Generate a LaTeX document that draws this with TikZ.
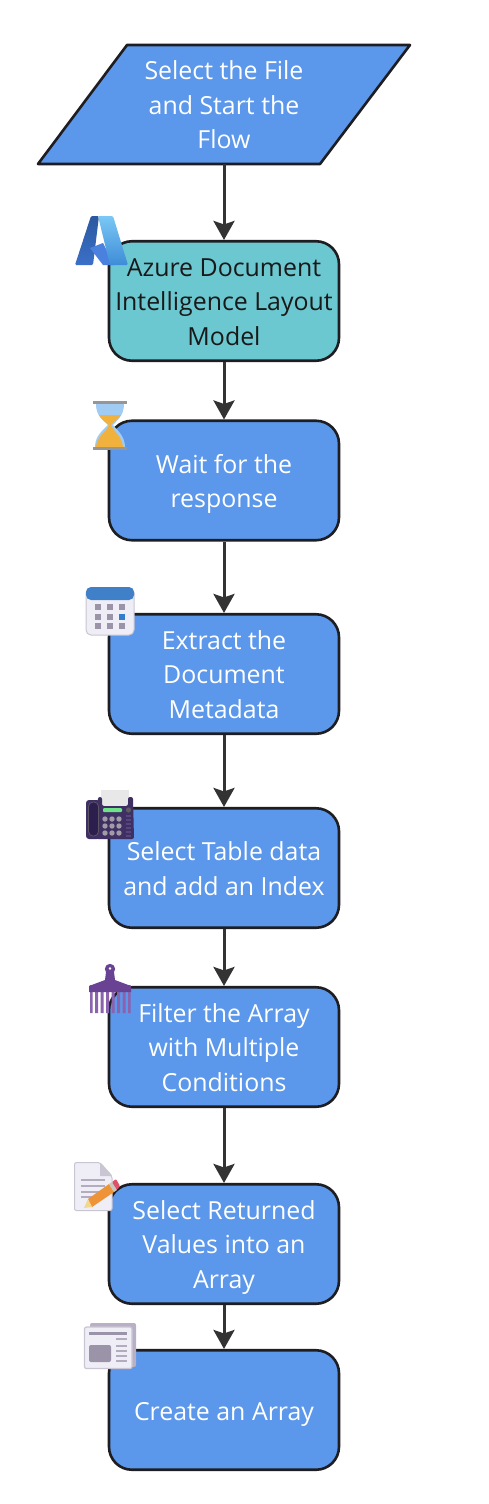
\documentclass[tikz,border=0pt]{standalone}
\usepackage{fontspec}
\setmainfont{Open Sans}
\usetikzlibrary{arrows.meta}
\definecolor{boxblue}{HTML}{5B97EA}
\definecolor{boxteal}{HTML}{6CC8D0}
\definecolor{edge}{HTML}{1E1E22}
\definecolor{arrowc}{HTML}{333333}
\definecolor{sheet}{HTML}{EFEEF6}
\definecolor{sheetb}{HTML}{C9C5D2}
\definecolor{mute}{HTML}{9B93A8}
\newcommand\flead[1][30pt]{\rule{0pt}{#1}}
\tikzset{
  x=1pt,y=-1pt,
  flowtext/.style={font=\fontsize{24.9}{34.5}\selectfont,align=center,text=white},
  flowbox/.style={flowtext,draw=edge,line width=2.6pt,fill=boxblue,rounded corners=23pt,minimum width=230pt,minimum height=119.5pt,inner sep=0pt},
  tealbox/.style={flowbox,fill=boxteal,text=black!90},
  startshape/.style={draw=edge,line width=2.6pt,fill=boxblue,line join=round},
  flowarrow/.style={draw=arrowc,line width=3pt,-{Stealth[length=19pt,width=21pt,inset=3.5pt]}},
}
\begin{document}
\begin{tikzpicture}
\useasboundingbox (0,0) rectangle (488,1504);
\fill[white] (0,0) rectangle (488,1504);
\coordinate (startbottom) at (224,164);
\draw[startshape] (127,45) -- (410,45) -- (320,164) -- (38,164) -- cycle;
\node[flowtext] (start) at (224,104.5) {\flead Select the File\\and Start the\\Flow\strut};
\node[tealbox] (azure) at (224,301) {\flead Azure Document\\Intelligence Layout\\Model\strut};
\node[flowbox] (wait) at (224,480.5) {\flead Wait for the\\response\strut};
\node[flowbox] (meta) at (224,674) {\flead Extract the\\Document\\Metadata\strut};
\node[flowbox] (table) at (224,868) {\flead Select Table data\\and add an Index\strut};
\node[flowbox] (filter) at (224,1047) {\flead Filter the Array\\with Multiple\\Conditions\strut};
\node[flowbox] (values) at (224,1244) {\flead Select Returned\\Values into an\\Array\strut};
\node[flowbox] (array) at (224,1410) {\flead[32pt]Create an Array\strut};
\draw[flowarrow] (startbottom) -- (azure.north);
\draw[flowarrow] (azure) -- (wait);
\draw[flowarrow] (wait) -- (meta);
\draw[flowarrow] (meta) -- (table);
\draw[flowarrow] (table) -- (filter);
\draw[flowarrow] (filter) -- (values);
\draw[flowarrow] (values) -- (array);
% Azure icon
\shade[top color={rgb,255:red,44;green,88;blue,160},bottom color={rgb,255:red,58;green,112;blue,200},rounded corners=1.2pt] (91,216) -- (99,216) -- (93,265) -- (75,265) -- cycle;
\fill[color={rgb,255:red,74;green,128;blue,222}] (90,248) -- (103,243) -- (114,265) -- (103,265) -- cycle;
\shade[top color={rgb,255:red,122;green,200;blue,245},bottom color={rgb,255:red,62;green,140;blue,215},rounded corners=1.2pt] (98,216) -- (113,216) -- (128,265) -- (110,265) -- cycle;
% Hourglass
\fill[color={rgb,255:red,160;green,203;blue,243}] (96,404) -- (124,404) .. controls (124,416) and (117,420) .. (113,425) .. controls (117,430) and (125,436) .. (125,447) -- (95,447) .. controls (95,436) and (103,430) .. (108,425) .. controls (103,420) and (96,416) .. (96,404) -- cycle;
\fill[color={rgb,255:red,240;green,178;blue,60}] (99,415) -- (121,415) .. controls (118,420) and (113,422) .. (111,425) .. controls (113,431) and (122,436) .. (123,447) -- (96,447) .. controls (97,436) and (107,431) .. (109,425) .. controls (106,422) and (102,420) .. (99,415) -- cycle;
\fill[color={rgb,255:red,150;green,150;blue,150}] (93,401) rectangle (127,404);
\fill[color={rgb,255:red,150;green,150;blue,150}] (93,447) rectangle (127,450);
% Calendar
\filldraw[fill=sheet,draw=sheetb,line width=1pt,rounded corners=5pt] (86,588) rectangle (134,635);
\fill[color={rgb,255:red,64;green,128;blue,200},rounded corners=5pt] (86,587) -- (134,587) -- (134,600) -- (86,600) -- cycle;
\foreach \cx in {98,110,122} \foreach \cy in {607,617,626} \fill[mute] (\cx-3,\cy-3) rectangle (\cx+3,\cy+3);
\fill[color={rgb,255:red,50;green,125;blue,205}] (119,614) rectangle (125,620);
% Fax
\fill[color={rgb,255:red,232;green,232;blue,232}] (101,790) rectangle (129,806);
\fill[color={rgb,255:red,63;green,47;blue,99},rounded corners=2pt] (98,797) -- (102,797) -- (102,806) -- (128,806) -- (128,797) -- (133,797) -- (134,839) -- (96,839) -- cycle;
\fill[color={rgb,255:red,63;green,47;blue,99},rounded corners=3pt] (86,800) rectangle (100,839);
\filldraw[fill={rgb,255:red,44;green,31;blue,77},draw={rgb,255:red,90;green,85;blue,100},line width=.8pt,rounded corners=4.5pt] (88.5,802) rectangle (98.5,836);
\fill[color={rgb,255:red,111;green,227;blue,138},rounded corners=1pt] (103,808) rectangle (122,812);
\fill[color={rgb,255:red,95;green,90;blue,100}] (128.5,810) circle (2.6);
\foreach \cx in {105,112,119} \foreach \cy in {819,826,833} \fill[color={rgb,255:red,160;green,155;blue,165}] (\cx,\cy) circle (2.7);
\foreach \cy in {816,820,824,828,832,836} \fill[color={rgb,255:red,85;green,70;blue,125}] (126,\cy-.7) rectangle (131,\cy+.7);
% Comb
\fill[color={rgb,255:red,138;green,98;blue,174}] (90,985) rectangle (92.5,1013) (95,985) rectangle (98,1013) (100.5,985) rectangle (103.5,1013) (106,985) rectangle (109,1013) (111.5,985) rectangle (114.5,1013) (117,985) rectangle (120,1013) (122.5,985) rectangle (125.5,1013) (128,985) rectangle (130.5,1013);
\fill[color={rgb,255:red,106;green,66;blue,148}] (89,992) -- (89,986) -- (105,980) -- (106,972) -- (114,972) -- (115,980) -- (131,986) -- (131,992) -- cycle;
\fill[color={rgb,255:red,106;green,66;blue,148},even odd rule] (110,969) circle (5.2) (110,968.5) circle (1.6);
% Document with pencil
\filldraw[fill=sheet,draw=sheetb,line width=1pt,rounded corners=2pt] (74.5,1162.5) -- (100,1162.5) -- (112,1176) -- (112,1210.5) -- (74.5,1210.5) -- cycle;
\fill[sheetb] (100,1163) -- (100,1176) -- (112,1176) -- cycle;
\foreach \cy in {1180,1186,1192,1197} \fill[color={rgb,255:red,178;green,172;blue,190}] (81,\cy-.8) rectangle (105,\cy+.8);
\fill[color={rgb,255:red,238;green,147;blue,56}] (88,1199) -- (109,1184) -- (114,1192) -- (92,1207) -- cycle;
\fill[color={rgb,255:red,244;green,215;blue,140}] (88,1199) -- (92,1207) -- (84,1208) -- cycle;
\fill[color={rgb,255:red,200;green,200;blue,195}] (109,1184) -- (112,1182) -- (117,1190) -- (114,1192) -- cycle;
\fill[color={rgb,255:red,224;green,80;blue,104},rounded corners=1pt] (112,1182) -- (116,1179) -- (120,1186) -- (117,1190) -- cycle;
% Newspaper
\fill[color={rgb,255:red,184;green,176;blue,196},rounded corners=2pt] (90,1323) rectangle (136,1367);
\filldraw[fill=sheet,draw=sheetb,line width=1.2pt,rounded corners=2pt] (84.5,1327) rectangle (132,1368.5);
\fill[mute] (89,1332) rectangle (127,1335);
\fill[mute,rounded corners=2pt] (89,1345) rectangle (111,1362);
\foreach \cy in {1339,1346,1351,1356,1361} \fill[color={rgb,255:red,178;green,172;blue,190}] (116,\cy-.8) rectangle (127,\cy+.8);
\end{tikzpicture}
\end{document}
